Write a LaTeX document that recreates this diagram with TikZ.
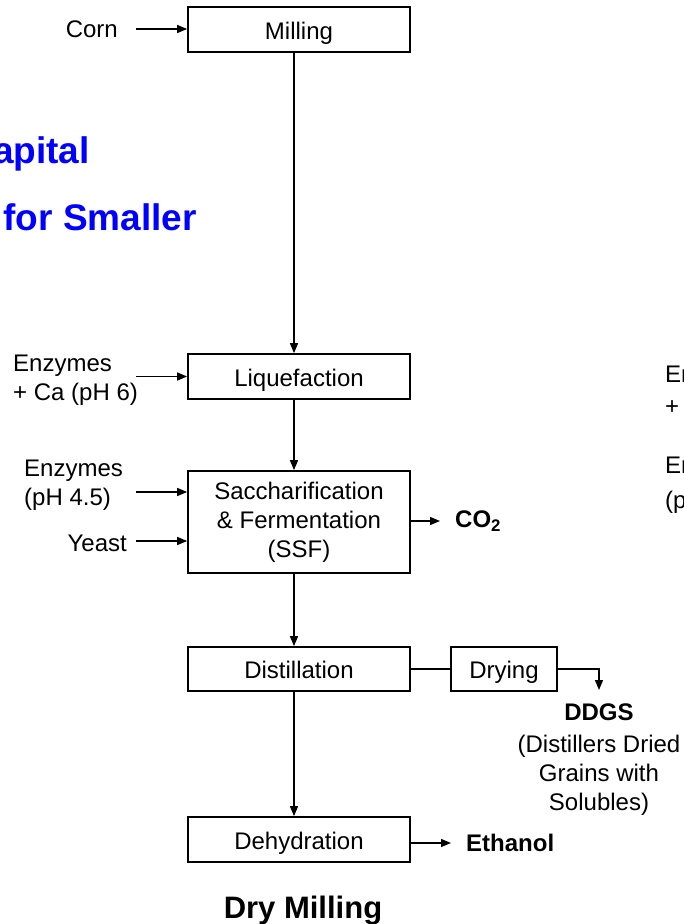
\documentclass[tikz,border=0pt]{standalone}
\usepackage{fontspec}
\setmainfont{Liberation Sans}
\usetikzlibrary{arrows.meta}
\begin{document}
\begin{tikzpicture}[x=1pt,y=-1pt,
  box/.style={draw, line width=1.7pt, minimum width=222pt, inner sep=0pt, font=\fontsize{24}{29}\selectfont, align=center},
  onebox/.style={box, text height=19pt, text depth=0pt},
  lbl/.style={inner sep=0pt, font=\fontsize{24}{29}\selectfont},
  blbl/.style={inner sep=0pt, font=\fontsize{24}{29}\selectfont\bfseries},
  bluetxt/.style={inner sep=0pt, text={rgb,255:red,0;green,0;blue,255}, font=\fontsize{37}{44}\selectfont\bfseries},
  arr/.style={line width=1.3pt, -{Triangle[length=10pt,width=8pt]}},
  conn/.style={line width=1.3pt}]
\useasboundingbox (0,0) rectangle (683,924);
\clip (0,0) rectangle (683,924);

% process boxes
\node[onebox, minimum height=45pt] (mill) at (299,29.5) {Milling};
\node[onebox, minimum height=45pt] (liq) at (299,376.5) {Liquefaction};
\node[box, minimum height=102pt] (ssf) at (299,522) {\raisebox{-2pt}{\parbox{200pt}{\centering Saccharification\\\& Fermentation\\(SSF)}}};
\node[onebox, minimum height=44pt] (dist) at (299,669) {Distillation};
\node[onebox, minimum height=44pt, minimum width=106pt] (dry) at (504,669) {Drying};
\node[onebox, minimum height=45pt] (dehy) at (299,839.5) {Dehydration};

% main spine
\coordinate (sp) at (294,0);
\draw[arr] (mill.south -| sp) -- (liq.north -| sp);
\draw[arr] (liq.south -| sp) -- (ssf.north -| sp);
\draw[arr] (ssf.south -| sp) -- (dist.north -| sp);
\draw[arr] (dist.south -| sp) -- (dehy.north -| sp);

% inputs
\node[lbl, anchor=east] (corn) at (118,29) {Corn};
\draw[arr, shorten <=18pt] (corn.east) -- (corn.east -| mill.west);

\node[lbl, anchor=west, align=left] (enz1) at (13,380) {Enzymes\\+ Ca (pH 6)};
\coordinate (e1) at (136,376.5);
\draw[arr] (e1) -- (e1 -| liq.west);

\node[lbl, anchor=west, align=left] (enz2) at (24,485) {Enzymes\\(pH 4.5)};
\coordinate (e2) at (136,492);
\draw[arr] (e2) -- (e2 -| ssf.west);

\node[lbl, anchor=east] (yeast) at (127,543) {Yeast};
\coordinate (e3) at (136,541);
\draw[arr] (e3) -- (e3 -| ssf.west);

% outputs
\node[blbl, anchor=west] (co2) at (455,521) {CO\textsubscript{2}};
\draw[arr, shorten >=15pt] (ssf.east |- co2.west) -- (co2.west);

\node[blbl, anchor=west] (eth) at (466,843) {Ethanol};
\draw[arr, shorten >=15pt] (dehy.east |- eth.west) -- (eth.west);

\draw[conn] (dist.east) -- (dry.west);
\coordinate (dtip) at (599,690);
\draw[arr] (dry.east) -| (dtip);
\node[blbl] (ddgs) at (599,712) {DDGS};
\node[lbl, align=center] (ddgsd) at (599,775) {(Distillers Dried\\Grains with\\Solubles)};

% title
\node[anchor=base, inner sep=0pt, font=\fontsize{31}{36}\selectfont\bfseries] (title) at (303,918) {Dry Milling};

% cut-off blue text (left)
\node[bluetxt, anchor=base east] (cap) at (90,163) {apital};
\node[bluetxt, anchor=base east] (small) at (197,230) {for Smaller};

% cut-off text (right)
\node[lbl, anchor=west] (r1) at (665,377) {Enzymes};
\node[lbl, anchor=west] (r2) at (665,408) {+ Ca (pH 6)};
\node[lbl, anchor=west] (r3) at (665,468) {Enzymes};
\node[lbl, anchor=west] (r4) at (665,502) {(pH 4.5)};
\end{tikzpicture}
\end{document}
